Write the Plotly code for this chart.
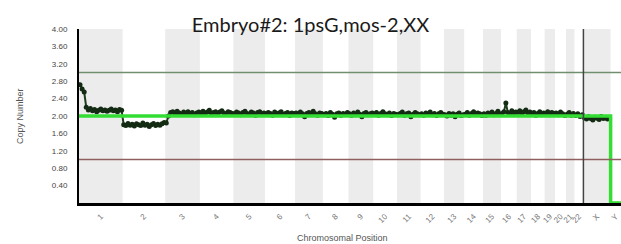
import plotly.graph_objects as go

chrom_labels = [str(i) for i in range(1, 23)] + ["X", "Y"]
chrom_len_mb = [249.3, 243.2, 198.0, 191.2, 180.9, 171.1, 159.1, 146.4, 141.2, 135.5,
                135.0, 133.9, 115.2, 107.3, 102.5, 90.4, 81.2, 78.1, 59.1, 63.0,
                48.1, 51.3, 155.3, 59.4]

cn_chr1 = [2.72, 2.62, 2.55, 2.20, 2.14, 2.17, 2.12, 2.15, 2.10, 2.13, 2.16, 2.12, 2.14, 2.11, 2.13, 2.16, 2.12, 2.14, 2.10, 2.15, 2.13]
cn_chr2 = [1.80, 1.78, 1.83, 1.79, 1.81, 1.77, 1.82, 1.80, 1.78, 1.84, 1.79, 1.81, 1.76, 1.80, 1.83, 1.78, 1.81, 1.79, 1.82, 1.85]
cn_chr3 = [1.84, 2.00, 2.08, 2.10, 2.05, 2.11, 2.07, 2.04, 2.09, 2.06, 2.10, 2.05, 2.08, 2.03, 2.07, 2.09]
cn_chr4 = [2.07, 2.11, 2.05, 2.09, 2.13, 2.06, 2.08, 2.10, 2.04, 2.09, 2.12, 2.07, 2.05, 2.10, 2.08, 2.06]
cn_chr5 = [2.05, 2.09, 2.07, 2.03, 2.08, 2.11, 2.06, 2.04, 2.09, 2.07, 2.02, 2.08, 2.10, 2.05, 2.07]
cn_chr6 = [2.04, 2.08, 2.06, 2.02, 2.09, 2.05, 2.07, 2.10, 2.03, 2.06, 2.08, 2.01, 2.07, 2.05]
cn_chr7 = [2.07, 2.03, 2.09, 2.05, 1.98, 2.06, 2.08, 2.04, 2.11, 2.05, 2.02, 2.07, 2.06]
cn_chr8 = [2.03, 2.06, 2.01, 2.08, 2.04, 1.97, 2.05, 2.07, 2.02, 2.06, 2.04, 2.08]
cn_chr9 = [2.05, 2.02, 2.07, 2.03, 2.09, 2.04, 1.98, 2.06, 2.08, 2.03, 2.05, 2.07]
cn_chr10 = [2.04, 2.08, 2.02, 2.06, 2.10, 2.05, 2.03, 2.07, 2.01, 2.06, 2.04]
cn_chr11 = [2.03, 2.06, 2.09, 2.02, 2.05, 2.07, 1.98, 2.04, 2.08, 2.05, 2.03]
cn_chr12 = [2.05, 2.02, 2.07, 2.04, 2.09, 2.03, 2.06, 2.01, 2.05, 2.08, 2.04]
cn_chr13 = [2.03, 2.00, 2.06, 2.02, 2.05, 1.98, 2.04, 2.07, 2.01, 2.03]
cn_chr14 = [2.04, 2.08, 2.02, 2.06, 2.10, 2.03, 2.07, 2.05, 2.01]
cn_chr15 = [2.05, 2.02, 2.07, 2.04, 2.09, 2.03, 2.06, 2.11, 2.04]
cn_chr16 = [2.06, 2.10, 2.30, 2.08, 2.04, 2.12, 2.07, 2.09]
cn_chr17 = [2.08, 2.12, 2.06, 2.10, 2.14, 2.07, 2.09]
cn_chr18 = [2.04, 2.08, 2.02, 2.06, 2.10, 2.03, 2.07]
cn_chr19 = [2.06, 2.10, 2.03, 2.08, 2.05]
cn_chr20 = [2.07, 2.03, 2.09, 2.05, 2.01]
cn_chr21 = [2.04, 2.08, 2.02, 2.06]
cn_chr22 = [2.01, 2.05, 1.99, 2.03]
cn_chrX = [1.96, 1.93, 1.98, 1.94, 1.91, 1.97, 1.95, 1.92, 1.99, 1.94, 1.96, 1.93, 1.95]
cn_chrY = []

segment_cn = [2] * 22 + [2, 0]

y_tick_vals = [0.4, 0.8, 1.2, 1.6, 2.0, 2.4, 2.8, 3.2, 3.6, 4.0]
y_tick_text = ["0.40", "0.80", "1.20", "1.60", "2.00", "2.40", "2.80", "3.20", "3.60", "4.00"]

all_cn = [cn_chr1, cn_chr2, cn_chr3, cn_chr4, cn_chr5, cn_chr6, cn_chr7, cn_chr8, cn_chr9,
          cn_chr10, cn_chr11, cn_chr12, cn_chr13, cn_chr14, cn_chr15, cn_chr16, cn_chr17,
          cn_chr18, cn_chr19, cn_chr20, cn_chr21, cn_chr22, cn_chrX, cn_chrY]

starts = []
s = 0.0
for L in chrom_len_mb:
    starts.append(s)
    s += L
total = s
centers = [st + L / 2 for st, L in zip(starts, chrom_len_mb)]

px, py = [], []
for st, L, vals in zip(starts, chrom_len_mb, all_cn):
    n = len(vals)
    for i, v in enumerate(vals):
        px.append(st + (i + 0.5) * L / n)
        py.append(v)

fig = go.Figure()

shapes = []
for i, (st, L) in enumerate(zip(starts, chrom_len_mb)):
    if i % 2 == 0 and i < 23:
        shapes.append(dict(type="rect", xref="x", yref="paper", x0=st, x1=st + L, y0=0, y1=1,
                           fillcolor="#ececec", line=dict(width=0), layer="below"))
shapes.append(dict(type="line", xref="paper", yref="y", x0=0, x1=1, y0=3, y1=3,
                   line=dict(color="#6f8f6f", width=1.5)))
shapes.append(dict(type="line", xref="paper", yref="y", x0=0, x1=1, y0=1, y1=1,
                   line=dict(color="#8f5f5f", width=1.5)))
shapes.append(dict(type="line", xref="x", yref="paper", x0=starts[22], x1=starts[22], y0=0, y1=1,
                   line=dict(color="#444444", width=1.5)))

fig.add_trace(go.Scatter(x=px, y=py, mode="markers+lines",
                         marker=dict(size=5, color="#132a13"),
                         line=dict(color="#1d3d1d", width=2),
                         showlegend=False, hoverinfo="skip"))

seg_x = starts + [total]
seg_y = segment_cn + [segment_cn[-1]]
fig.add_trace(go.Scatter(x=seg_x, y=seg_y, mode="lines", line_shape="hv",
                         line=dict(color="#33dd33", width=3.5),
                         showlegend=False, hoverinfo="skip"))

fig.update_layout(
    width=621, height=244,
    margin=dict(l=79, r=0, t=29, b=41),
    paper_bgcolor="white", plot_bgcolor="white",
    shapes=shapes,
    title=dict(text="Embryo#2: 1psG,mos-2,XX", x=0.5, xanchor="center",
               y=1 - 25 / 244, yanchor="middle", yref="container",
               font=dict(family="Lato", size=20, color="#1a1a1a")),
    xaxis=dict(range=[0, total], tickvals=centers, ticktext=chrom_labels, tickangle=-45,
               tickfont=dict(family="Liberation Sans", size=8, color="#777777"),
               showgrid=False, zeroline=False, showline=True, linecolor="black", linewidth=2.5,
               ticks="outside", ticklen=3, tickcolor="rgba(0,0,0,0)"),
    yaxis=dict(range=[0, 4], tickvals=y_tick_vals, ticktext=y_tick_text,
               tickfont=dict(family="Liberation Sans", size=8, color="#444444"),
               showgrid=False, zeroline=False, showline=True, linecolor="black", linewidth=2,
               ticks="outside", ticklen=8, tickcolor="rgba(0,0,0,0)"),
    annotations=[
        dict(text="Copy Number", xref="paper", yref="paper", x=(20 - 79) / 542, y=0.5,
             textangle=-90, showarrow=False, xanchor="center", yanchor="middle",
             font=dict(family="Liberation Sans", size=9, color="#555555")),
        dict(text="Chromosomal Position", xref="paper", yref="paper", x=(342 - 79) / 542,
             y=(203 - 238) / 174, showarrow=False, xanchor="center", yanchor="middle",
             font=dict(family="Liberation Sans", size=9, color="#555555")),
    ],
)

fig.write_html("out.html", config={"displayModeBar": False},
               post_script="document.body.style.margin='0';document.body.style.overflow='hidden';")
